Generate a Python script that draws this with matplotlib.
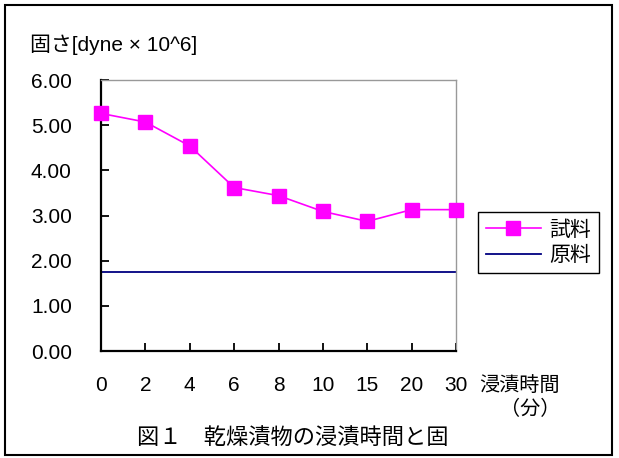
import matplotlib
matplotlib.use("Agg")
import matplotlib.pyplot as plt
from matplotlib.patches import Rectangle

plt.rcParams['font.family'] = ['Liberation Sans', 'Noto Sans CJK JP']

# 浸漬時間（分）と固さ
times = ["0", "2", "4", "6", "8", "10", "15", "20", "30"]
sample = [5.26, 5.07, 4.54, 3.62, 3.44, 3.09, 2.87, 3.13, 3.13]
raw = 1.75
yticks = [0, 1, 2, 3, 4, 5, 6]

fig = plt.figure(figsize=(6.19, 4.58), dpi=100)
ax = fig.add_axes([0.1632, 0.2336, 0.5735, 0.5917])

pos = list(range(len(times)))
ax.plot(pos, sample, color="#ff00ff", lw=1.2, marker="s", ms=9.5,
        markeredgecolor="#ff00ff", label="試料", clip_on=False, zorder=3)
ax.plot([pos[0], pos[-1]], [raw, raw], color="#000080", lw=1.3, label="原料")

ax.set_xlim(0, len(times) - 1)
ax.set_ylim(0, 6)
ax.set_xticks(pos)
ax.set_xticklabels(times)
ax.set_yticks(yticks)
ax.set_yticklabels([f"{v:.2f}" for v in yticks])
ax.tick_params(axis="both", direction="in", length=6, width=1.3, labelsize=15)
ax.tick_params(axis="x", pad=18)
ax.tick_params(axis="y", pad=21)

for s in ("left", "bottom"):
    ax.spines[s].set_linewidth(1.6)
for s in ("top", "right"):
    ax.spines[s].set_color("#999999")
    ax.spines[s].set_linewidth(1.0)

leg = ax.legend(loc="center", bbox_to_anchor=(0.870, 0.4705),
                bbox_transform=fig.transFigure, fontsize=15, frameon=True,
                fancybox=False, framealpha=1, edgecolor="black",
                handlelength=2.6, handletextpad=0.4, borderpad=0.4,
                labelspacing=0.3)
leg.get_frame().set_linewidth(1.0)

fig.text(30 / 619, 1 - 45 / 458, "固さ[dyne × 10^6]", fontsize=15,
         ha="left", va="center")
fig.text(560 / 619, 1 - 385 / 458, "浸漬時間", fontsize=14.5,
         ha="right", va="center")
fig.text(560 / 619, 1 - 409 / 458, "（分）", fontsize=14.5,
         ha="right", va="center")
fig.text(293 / 619, 1 - 438 / 458, "図１　乾燥漬物の浸漬時間と固", fontsize=16,
         ha="center", va="center")

# 外枠
fig.patches.append(Rectangle((5 / 619, 3 / 458), 607 / 619, 450 / 458,
                             transform=fig.transFigure, fill=False,
                             edgecolor="black", lw=1.5))

fig.savefig("out.png", dpi=100)
